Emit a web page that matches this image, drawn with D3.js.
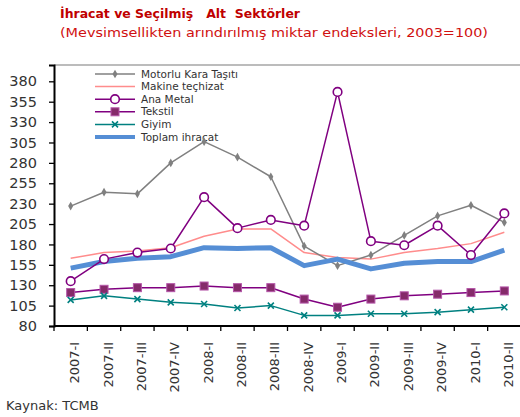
<!DOCTYPE html>
<html>
<head>
<meta charset="utf-8">
<script src="https://cdn.jsdelivr.net/npm/d3@7"></script>
<style>
  body { margin: 0; background: #fff; }
  svg { display: block; font-family: "DejaVu Sans", sans-serif; }
</style>
</head>
<body>
<svg id="chart"></svg>
<script>
const quarters = ["2007-I", "2007-II", "2007-III", "2007-IV", "2008-I", "2008-II", "2008-III",
  "2008-IV", "2009-I", "2009-II", "2009-III", "2009-IV", "2010-I", "2010-II"];

const motorlu = [227, 244, 242, 280, 306, 287, 263, 178, 154, 167, 191, 215, 228, 207];
const makine  = [163, 170, 172, 176, 190, 199, 199, 170, 164, 162, 170, 175, 181, 195];
const anaMetal = [135, 162, 170, 175, 238, 200, 210, 203, 367, 184, 179, 203, 167, 218];
const tekstil = [121, 125, 127, 127, 129, 127, 127, 113, 103, 113, 117, 119, 121, 123];
const giyim   = [112, 117, 113, 109, 107, 102, 105, 93, 93, 95, 95, 97, 100, 103];
const toplam  = [151, 159, 163, 165, 176, 175, 176, 154, 162, 150, 157, 159, 159, 173];

const yTicks = d3.range(80, 381, 25);

const series = [
  { name: "Motorlu Kara Taşıtı", values: motorlu, color: "#808080", width: 1.5, marker: "diamond" },
  { name: "Makine teçhizat", values: makine, color: "#ff8c8c", width: 1.5, marker: null },
  { name: "Ana Metal", values: anaMetal, color: "#800080", width: 1.5, marker: "circle" },
  { name: "Tekstil", values: tekstil, color: "#800080", width: 1.5, marker: "square" },
  { name: "Giyim", values: giyim, color: "#008080", width: 1.5, marker: "x" },
  { name: "Toplam ihracat", values: toplam, color: "#558ed5", width: 5, marker: null }
];

const W = 520, H = 417;
const svg = d3.select("#chart").attr("width", W).attr("height", H);

const x = d3.scaleBand().domain(quarters).range([54, 521]).padding(0);
const y = d3.scaleLinear().domain([80, 400]).range([326, 65]);
const cx = d => x(d) + x.bandwidth() / 2;

// title
svg.append("text").attr("x", 60).attr("y", 18)
  .attr("fill", "#c00000").attr("font-weight", "bold").attr("font-size", 13)
  .attr("textLength", 240).attr("lengthAdjust", "spacingAndGlyphs")
  .style("white-space", "pre")
  .text("İhracat ve Seçilmiş   Alt  Sektörler");
svg.append("text").attr("x", 60).attr("y", 37)
  .attr("fill", "#d01010").attr("font-size", 13)
  .attr("textLength", 428).attr("lengthAdjust", "spacingAndGlyphs")
  .text("(Mevsimsellikten arındırılmış miktar endeksleri, 2003=100)");

// top border
svg.append("line").attr("x1", x.range()[0]).attr("x2", W).attr("y1", y(400)).attr("y2", y(400))
  .attr("stroke", "#a6a6a6").attr("stroke-width", 1.5);

// y axis
const yAxis = svg.append("g").attr("transform", `translate(${x.range()[0]},0)`)
  .call(d3.axisLeft(y).tickValues(yTicks).tickSize(5).tickPadding(12));
yAxis.select(".domain").attr("stroke", "#000").attr("stroke-width", 2);
yAxis.selectAll(".tick line").attr("stroke", "#000").attr("stroke-width", 1.3);
yAxis.selectAll(".tick text").attr("font-size", 14.5).attr("fill", "#333")
  .attr("font-family", "DejaVu Sans");

// x axis
const xAxis = svg.append("g").attr("transform", `translate(0,${y(80)})`);
xAxis.append("line").attr("x1", x.range()[0]).attr("x2", W).attr("stroke", "#000").attr("stroke-width", 2);
xAxis.selectAll(".xt").data(quarters).join("line").attr("class", "xt")
  .attr("x1", d => x(d)).attr("x2", d => x(d)).attr("y1", 0).attr("y2", 5)
  .attr("stroke", "#000").attr("stroke-width", 1.3);
xAxis.selectAll(".xl").data(quarters).join("text").attr("class", "xl")
  .attr("transform", d => `translate(${cx(d) + 4},16) rotate(-90)`)
  .attr("text-anchor", "end").attr("dy", "0.35em")
  .attr("font-size", 13).attr("fill", "#333").text(d => d);

svg.append("text").attr("x", 6).attr("y", 410).attr("font-size", 13).attr("fill", "#333")
  .text("Kaynak: TCMB");

function drawMarker(g, type, color) {
  if (type === "diamond") {
    g.append("path").attr("d", d3.symbol(d3.symbolDiamond, 22)()).attr("fill", color);
  } else if (type === "circle") {
    g.append("circle").attr("r", 4.3).attr("fill", "#fff").attr("stroke", color).attr("stroke-width", 1.6);
  } else if (type === "square") {
    g.append("rect").attr("x", -4).attr("y", -4).attr("width", 8).attr("height", 8)
      .attr("fill", "#852a6a").attr("stroke", "#b455a8").attr("stroke-width", 1);
  } else if (type === "x") {
    g.append("path").attr("d", "M-3,-3L3,3M-3,3L3,-3").attr("stroke", color).attr("stroke-width", 1.6);
  }
}

// legend
const legend = svg.append("g");
series.forEach((s, i) => {
  const ly = 74 + i * 12.6;
  legend.append("line").attr("x1", 95).attr("x2", 135).attr("y1", ly).attr("y2", ly)
    .attr("stroke", s.color).attr("stroke-width", s.width === 5 ? 4 : s.width);
  if (s.marker) drawMarker(legend.append("g").attr("transform", `translate(115,${ly})`), s.marker, s.color);
  legend.append("text").attr("x", 141).attr("y", ly).attr("dy", "0.35em")
    .attr("font-size", 10.5).attr("fill", "#333").text(s.name);
});

// lines
const line = d3.line().x((d, i) => cx(quarters[i])).y(d => y(d));
const drawOrder = [1, 0, 5, 2, 3, 4];
drawOrder.forEach(k => {
  const s = series[k];
  svg.append("path").datum(s.values).attr("d", line)
    .attr("fill", "none").attr("stroke", s.color).attr("stroke-width", s.width)
    .attr("stroke-linejoin", "round");
  if (s.marker) {
    svg.append("g").selectAll("g").data(s.values).join("g")
      .attr("transform", (d, i) => `translate(${cx(quarters[i])},${y(d)})`)
      .each(function () { drawMarker(d3.select(this), s.marker, s.color); });
  }
});
</script>
</body>
</html>
